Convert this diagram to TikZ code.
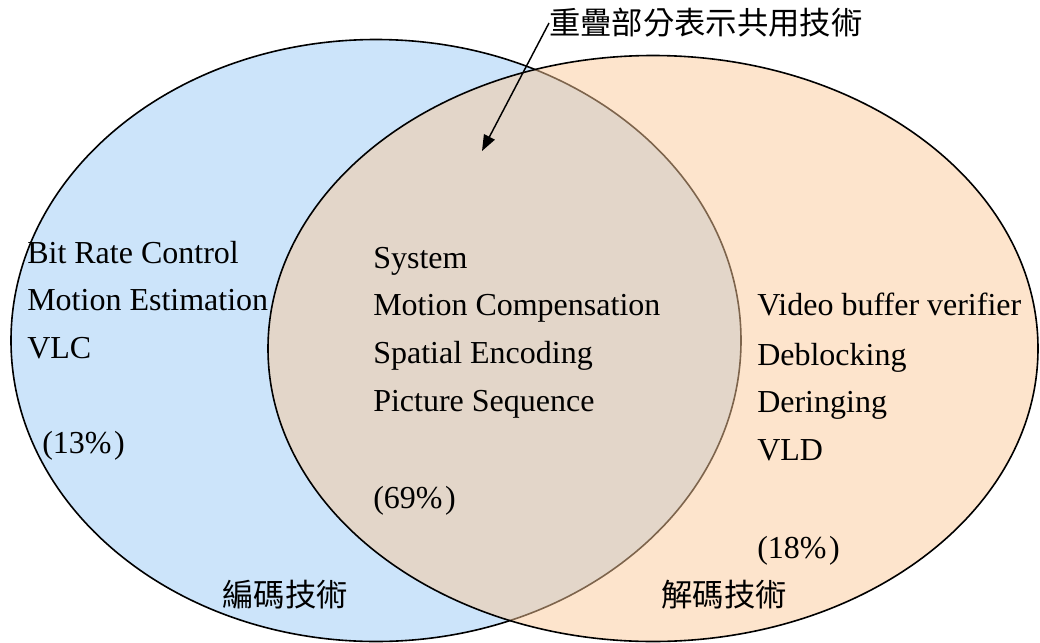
\documentclass[tikz,border=0pt]{standalone}
\usepackage{fontspec}
\setmainfont{Liberation Serif}
\newfontfamily\cjk{Noto Sans CJK TC}
\usetikzlibrary{arrows.meta}
\definecolor{encblue}{RGB}{204,228,250}
\definecolor{decpeach}{RGB}{251,201,153}
\tikzset{
  vennline/.style={line width=1.2pt, draw=black},
  lbl/.style={anchor=base west, inner sep=0pt, font=\fontsize{24}{28}\selectfont},
  cjklbl/.style={anchor=center, inner sep=0pt, font=\fontsize{23.5}{28}\selectfont\cjk},
  pointer/.style={line width=1.1pt, -{Triangle[length=12pt,width=9pt]}}
}
\begin{document}
\begin{tikzpicture}[x=0.75pt,y=-0.75pt]
\useasboundingbox (0,0) rectangle (1040,643);
% left ellipse (encoding)
\draw[vennline, fill=encblue] (376,340.5) ellipse [x radius=365, y radius=301];
% right ellipse (decoding), semi-transparent fill over the left one
\draw[vennline, fill=decpeach, fill opacity=0.5] (653,348.5) ellipse [x radius=385, y radius=293];

% encoding only
\node[lbl] (brc) at (27,263) {Bit Rate Control};
\node[lbl] (me)  at (27,310) {Motion Estimation};
\node[lbl] (vlc) at (27,358) {VLC};
\node[lbl] (p13) at (42,453) {(13\%\kern2pt)};
\node[cjklbl] (enc) at (285,595) {編碼技術};

% shared
\node[lbl] (sys) at (373,268) {System};
\node[lbl] (mc)  at (373,315) {Motion Compensation};
\node[lbl] (se)  at (373,363) {Spatial Encoding};
\node[lbl] (ps)  at (373,411) {Picture Sequence};
\node[lbl] (p69) at (373,508) {(69\%\kern2pt)};

% decoding only
\node[lbl] (vbv) at (757,315) {Video buffer verifier};
\node[lbl] (deb) at (757,365) {Deblocking};
\node[lbl] (der) at (757,412) {Deringing};
\node[lbl] (vld) at (757,460) {VLD};
\node[lbl] (p18) at (757,558) {(18\%\kern2pt)};
\node[cjklbl] (dec) at (724,595) {解碼技術};

% pointer
\node[cjklbl, anchor=west] (note) at (549,23) {重疊部分表示共用技術};
\coordinate (arrowtip) at (482,151);
\draw[pointer] (note.west) -- (arrowtip);
\end{tikzpicture}
\end{document}
